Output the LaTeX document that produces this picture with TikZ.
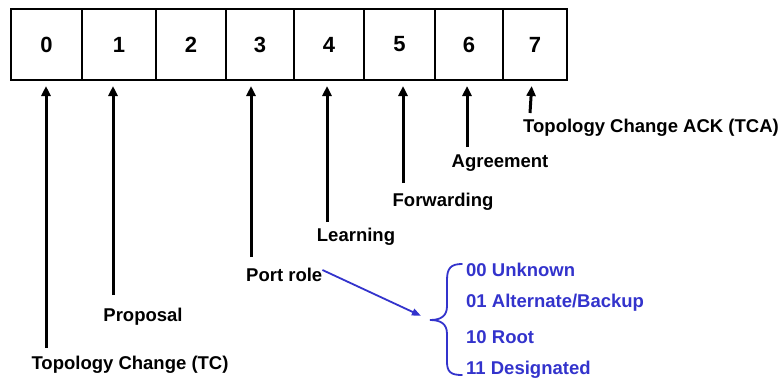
\documentclass[tikz,border=0pt]{standalone}
\usepackage{fontspec}
\setmainfont{Liberation Sans}
\usetikzlibrary{arrows.meta}
\definecolor{roleblue}{RGB}{51,51,204}
\begin{document}
\begin{tikzpicture}[x=1pt,y=-1pt,
  cell/.style={draw,line width=2pt,inner sep=0pt,minimum height=71pt,font=\fontsize{22}{26}\selectfont\bfseries},
  lbl/.style={inner sep=0pt,font=\fontsize{18.5}{22}\selectfont\bfseries},
  blbl/.style={lbl,text=roleblue,anchor=west},
  arr/.style={line width=3pt,-{Triangle[length=10pt,width=9pt]},shorten >=5pt},
  barr/.style={draw=roleblue,line width=1.8pt,-{Triangle[length=9pt,width=7pt]},shorten >=10pt}]
\useasboundingbox (0,0) rectangle (783,381);
% cells
\node[cell,minimum width=71pt] (c0) at (46.5,44.5) {0};
\node[cell,minimum width=74pt] (c1) at (119,44.5) {1};
\node[cell,minimum width=70pt] (c2) at (191,44.5) {2};
\node[cell,minimum width=68pt] (c3) at (260,44.5) {3};
\node[cell,minimum width=70pt] (c4) at (329,44.5) {4};
\node[cell,minimum width=71pt] (c5) at (399.5,44.5) {5};
\node[cell,minimum width=68pt] (c6) at (469,44.5) {6};
\node[cell,minimum width=64pt] (c7) at (535,44.5) {7};
% labels
\node[lbl] (l0) at (130,365) {Topology Change (TC)};
\node[lbl] (l1) at (143,317) {Proposal};
\node[lbl,anchor=west] (l3) at (246,275) {Port role};
\node[lbl] (l4) at (356,237) {Learning};
\node[lbl] (l5) at (443,202) {Forwarding};
\node[lbl] (l6) at (500,163) {Agreement};
\node[lbl] (l7) at (651,128) {Topology Change ACK (TCA)};
% arrow tails
\coordinate (b0) at (46,348);
\coordinate (b1) at (113,295);
\coordinate (b3) at (251,257);
\coordinate (b4) at (327,222);
\coordinate (b5) at (403,183);
\coordinate (b6) at (467,147);
\coordinate (b7) at (530,113);
\draw[arr] (b0) -- (b0 |- c0.south);
\draw[arr] (b1) -- (b1 |- c1.south);
\draw[arr] (b3) -- (b3 |- c3.south);
\draw[arr] (b4) -- (b4 |- c4.south);
\draw[arr] (b5) -- (b5 |- c5.south);
\draw[arr] (b6) -- (b6 |- c6.south);
\draw[arr] (b7) -- ([xshift=2pt]b7 |- c7.south);
% brace
\coordinate (bt) at (430,320);
\draw[roleblue,line width=1.8pt,line cap=round]
  (462,264) .. controls (451,264) and (447,268) .. (447,280) -- (447,306)
  .. controls (447,316) and (441,320) .. (bt)
  .. controls (441,320) and (447,324) .. (447,334) -- (447,362)
  .. controls (447,372) and (451,375) .. (462,375);
\draw[barr] ([yshift=5pt]l3.east) -- (bt);
% role values
\node[blbl] (r0) at (466,270) {00 Unknown};
\node[blbl] (r1) at (466,303) {01 Alternate/Backup};
\node[blbl] (r2) at (466,337) {10 Root};
\node[blbl] (r3) at (466,370) {11 Designated};
\end{tikzpicture}
\end{document}
